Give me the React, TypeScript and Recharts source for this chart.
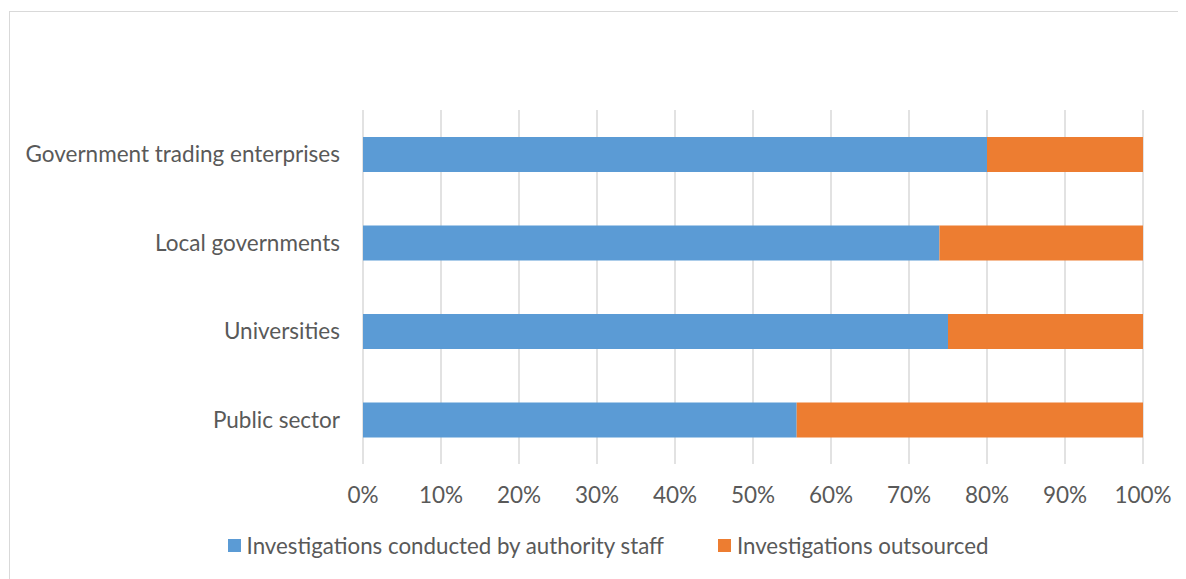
import { BarChart, Bar, XAxis, YAxis, CartesianGrid, Legend } from "recharts";

const categories = [
  "Government trading enterprises",
  "Local governments",
  "Universities",
  "Public sector",
];
const staffShare = [80, 73.9, 75, 55.6];
const outsourcedShare = [20, 26.1, 25, 44.4];
const xTicks = [0, 10, 20, 30, 40, 50, 60, 70, 80, 90, 100];

const STAFF = "Investigations conducted by authority staff";
const OUTSOURCED = "Investigations outsourced";

const data = categories.map((name, i) => ({
  name,
  staff: staffShare[i],
  outsourced: outsourcedShare[i],
}));

const FONT = "Lato, 'Open Sans', sans-serif";
const TEXT = "#595959";
const FS = 22.5;

function LegendBox() {
  const items = [
    { label: STAFF, color: "#5B9BD5" },
    { label: OUTSOURCED, color: "#ED7D31" },
  ];
  return (
    <div
      style={{
        display: "flex",
        justifyContent: "center",
        gap: 54,
        fontFamily: FONT,
        fontSize: 22.3,
        color: TEXT,
      }}
    >
      {items.map((it) => (
        <div key={it.label} style={{ display: "flex", alignItems: "center" }}>
          <span
            style={{
              width: 13,
              height: 13,
              background: it.color,
              marginRight: 6,
              display: "inline-block",
            }}
          />
          <span>{it.label}</span>
        </div>
      ))}
    </div>
  );
}

export default function App() {
  return (
    <div
      style={{
        position: "relative",
        width: 1178,
        height: 571,
        overflow: "hidden",
        background: "#fff",
      }}
    >
      <div
        style={{
          position: "absolute",
          left: 1,
          top: 3,
          width: 1300,
          height: 700,
          border: "1px solid #d9d9d9",
        }}
      />
      <div style={{ position: "absolute", left: 0, top: 0 }}>
        <BarChart
          width={1178}
          height={571}
          data={data}
          layout="vertical"
          margin={{ top: 102, right: 43, bottom: 35, left: 0 }}
        >
          <CartesianGrid
            horizontal={false}
            stroke="#d9d9d9"
            strokeWidth={1.5}
          />
          <XAxis
            type="number"
            domain={[0, 100]}
            ticks={xTicks}
            tickFormatter={(v) => `${v}%`}
            axisLine={false}
            tickLine={false}
            tickMargin={17}
            height={50}
            interval={0}
            tick={{ fontSize: FS, fill: TEXT, fontFamily: FONT }}
          />
          <YAxis
            type="category"
            dataKey="name"
            width={355}
            axisLine={false}
            tickLine={false}
            tickMargin={17}
            tick={{ fontSize: FS, fill: TEXT, fontFamily: FONT }}
          />
          <Legend
            verticalAlign="bottom"
            content={() => <LegendBox />}
            wrapperStyle={{ top: 524, left: 11, width: 1178, height: 30 }}
          />
          <Bar
            dataKey="staff"
            name={STAFF}
            stackId="a"
            fill="#5B9BD5"
            barSize={35}
            isAnimationActive={false}
          />
          <Bar
            dataKey="outsourced"
            name={OUTSOURCED}
            stackId="a"
            fill="#ED7D31"
            barSize={35}
            isAnimationActive={false}
          />
        </BarChart>
      </div>
    </div>
  );
}
